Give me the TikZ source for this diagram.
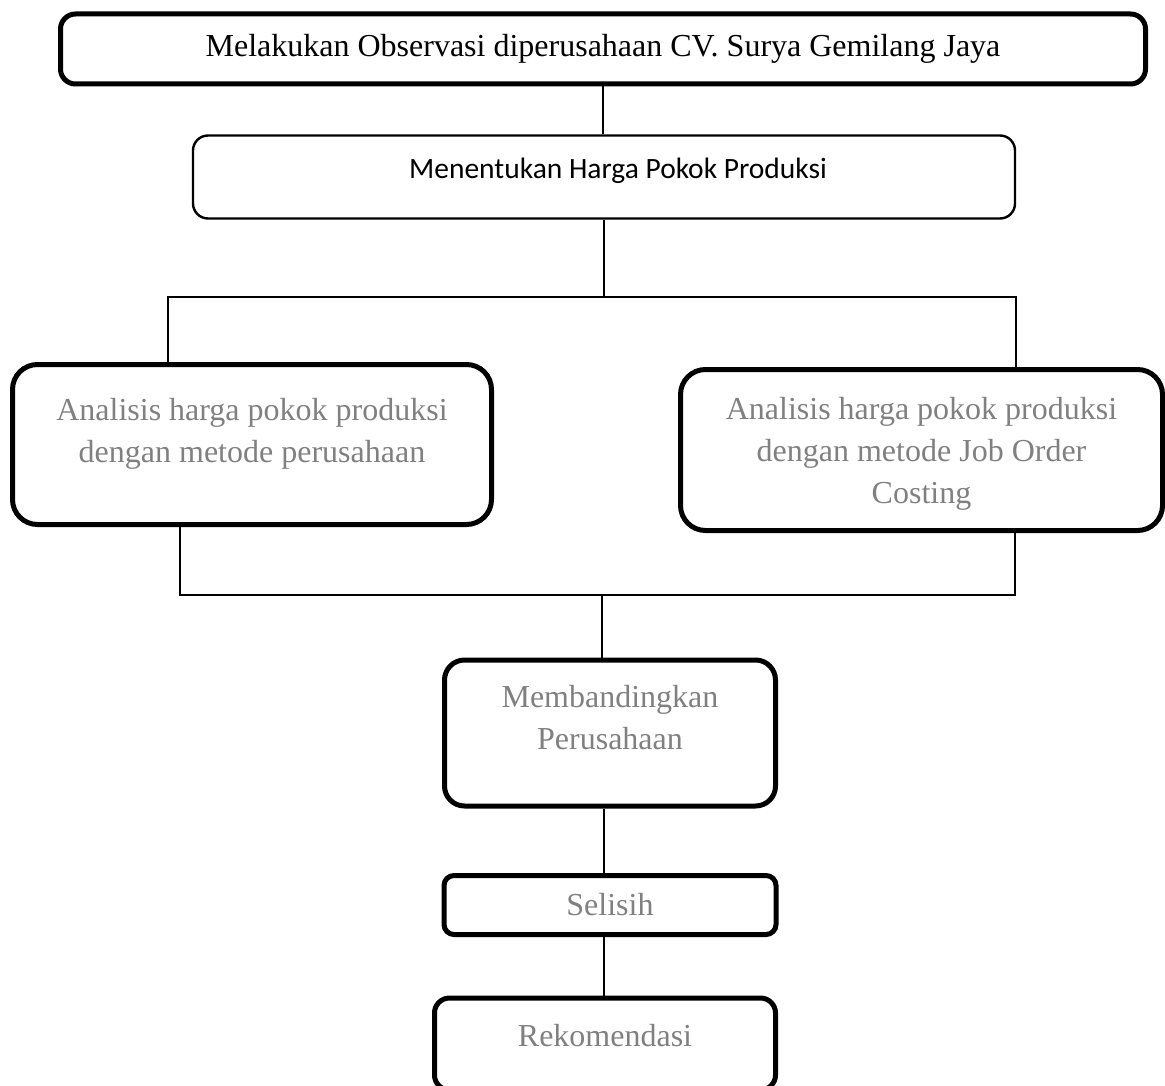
\documentclass[tikz,border=0pt]{standalone}
\usepackage{fontspec}
\setmainfont{Liberation Serif}
\newfontfamily\calibrifont{Carlito}
\usepackage{xcolor}
\usepackage{tikz}
\usetikzlibrary{positioning}
\definecolor{textgray}{RGB}{128,128,128}
\begin{document}
\begin{tikzpicture}[
  x=0.5pt,y=-0.5pt,
  stepbox/.style={rectangle,draw=black,line width=2.5pt,align=center,
                  inner sep=0pt,font=\fontsize{16}{21}\selectfont},
  plainbox/.style={rectangle,draw=black,line width=1.2pt,rounded corners=7.5pt,
                   align=center,inner sep=0pt},
  link/.style={draw=black,line width=1pt}
]
\useasboundingbox (0,0) rectangle (1165,1085);
\clip (0,0) rectangle (1165,1085);
\node[stepbox,rounded corners=7.5pt,minimum width=542.5pt,minimum height=35pt] (obs)
  at (603,49) {Melakukan Observasi diperusahaan CV. Surya Gemilang Jaya};
\node[plainbox,minimum width=411pt,minimum height=41.5pt,text depth=9pt,
      font=\calibrifont\fontsize{14.75}{18}\selectfont] (hpp)
  at (604,177) {\hspace*{14pt}Menentukan Harga Pokok Produksi};
\node[stepbox,rounded corners=12.5pt,text=textgray,minimum width=239.5pt,minimum height=80pt] (anl)
  at (252,444.5) {Analisis harga pokok produksi\\dengan metode perusahaan\\[-6.5pt]~};
\node[stepbox,rounded corners=12.5pt,text=textgray,minimum width=241pt,minimum height=80.5pt] (ajo)
  at (921.5,450) {Analisis harga pokok produksi\\dengan metode Job Order\\Costing\\[-21.5pt]~};
\node[stepbox,rounded corners=10pt,text=textgray,minimum width=165.5pt,minimum height=73pt] (bnd)
  at (610,733) {Membandingkan\\Perusahaan\\[-5pt]~};
\node[stepbox,rounded corners=5pt,text=textgray,minimum width=166pt,minimum height=29.5pt] (sel)
  at (610,905) {Selisih};
\node[stepbox,rounded corners=7.5pt,text=textgray,minimum width=170.5pt,minimum height=46pt] (rek)
  at (605,1044) {Rekomendasi\\[-12pt]~};
% branching points
\coordinate (split) at (604,297);
\coordinate (ltop) at (168,297);
\coordinate (rtop) at (1016,297);
\coordinate (lbot) at (180,595);
\coordinate (rbot) at (1015,595);
\coordinate (join) at (602,595);
\draw[link] (obs.south) -- (obs.south |- hpp.north);
\draw[link] (split |- hpp.south) -- (split);
\draw[link] (ltop |- anl.north) -- (ltop) -- (rtop) -- (rtop |- ajo.north);
\draw[link] (lbot |- anl.south) -- (lbot) -- (rbot) -- (rbot |- ajo.south);
\draw[link] (join) -- (join |- bnd.north);
\draw[link] (604,0 |- bnd.south) -- (604,0 |- sel.north);
\draw[link] (604,0 |- sel.south) -- (604,0 |- rek.north);
\end{tikzpicture}
\end{document}
